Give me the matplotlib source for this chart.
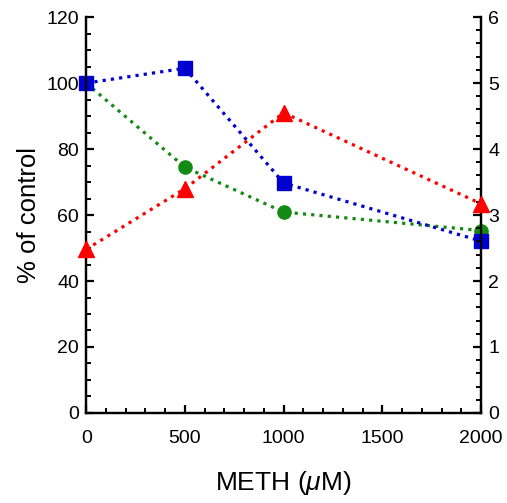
import matplotlib
matplotlib.use("Agg")
import matplotlib.pyplot as plt
from matplotlib.ticker import MultipleLocator

plt.rcParams['font.family'] = ['Liberation Sans', 'DejaVu Sans']
plt.rcParams['mathtext.fontset'] = 'custom'
plt.rcParams['mathtext.it'] = 'Liberation Sans:italic'

# data
meth = [0, 500, 1000, 2000]
blue_sq = [100, 104.5, 69.7, 52.1]
green_ci = [100, 74.5, 60.9, 55.3]
red_tri = [2.48, 3.4, 4.55, 3.17]   # right axis

fig = plt.figure(figsize=(5.07, 5.03), dpi=100)
ax = fig.add_axes([0.170, 0.179, 0.779, 0.787])
ax2 = ax.twinx()

ls = (0, (1, 1.6))
ax.plot(meth, green_ci, color='#138a13', ls=ls, lw=2.3, marker='o', ms=9.5, clip_on=False, zorder=3)
ax.plot(meth, blue_sq, color='#0000d0', ls=ls, lw=2.3, marker='s', ms=10.5, clip_on=False, zorder=4)
ax2.plot(meth, red_tri, color='#ff0000', ls=ls, lw=2.3, marker='^', ms=11.5, clip_on=False, zorder=3)

ax.set_xlim(0, 2000)
ax.set_ylim(0, 120)
ax2.set_ylim(0, 6)

ax.xaxis.set_major_locator(MultipleLocator(500))
ax.xaxis.set_minor_locator(MultipleLocator(100))
ax.yaxis.set_major_locator(MultipleLocator(20))
ax.yaxis.set_minor_locator(MultipleLocator(5))
ax2.yaxis.set_major_locator(MultipleLocator(1))
ax2.yaxis.set_minor_locator(MultipleLocator(0.2))

for a in (ax, ax2):
    a.spines['top'].set_visible(False)
    for s in a.spines.values():
        s.set_linewidth(1.6)
    a.tick_params(which='major', direction='in', length=6, width=1.6, labelsize=14, pad=5)
    a.tick_params(which='minor', direction='in', length=3.5, width=1.4)
ax.tick_params(axis='x', pad=12)

ax.set_ylabel('% of control', fontsize=18.5, labelpad=4)
ax.set_xlabel(r'METH ($\mu$M)', fontsize=19, labelpad=16)

fig.savefig('out.png', dpi=100)
